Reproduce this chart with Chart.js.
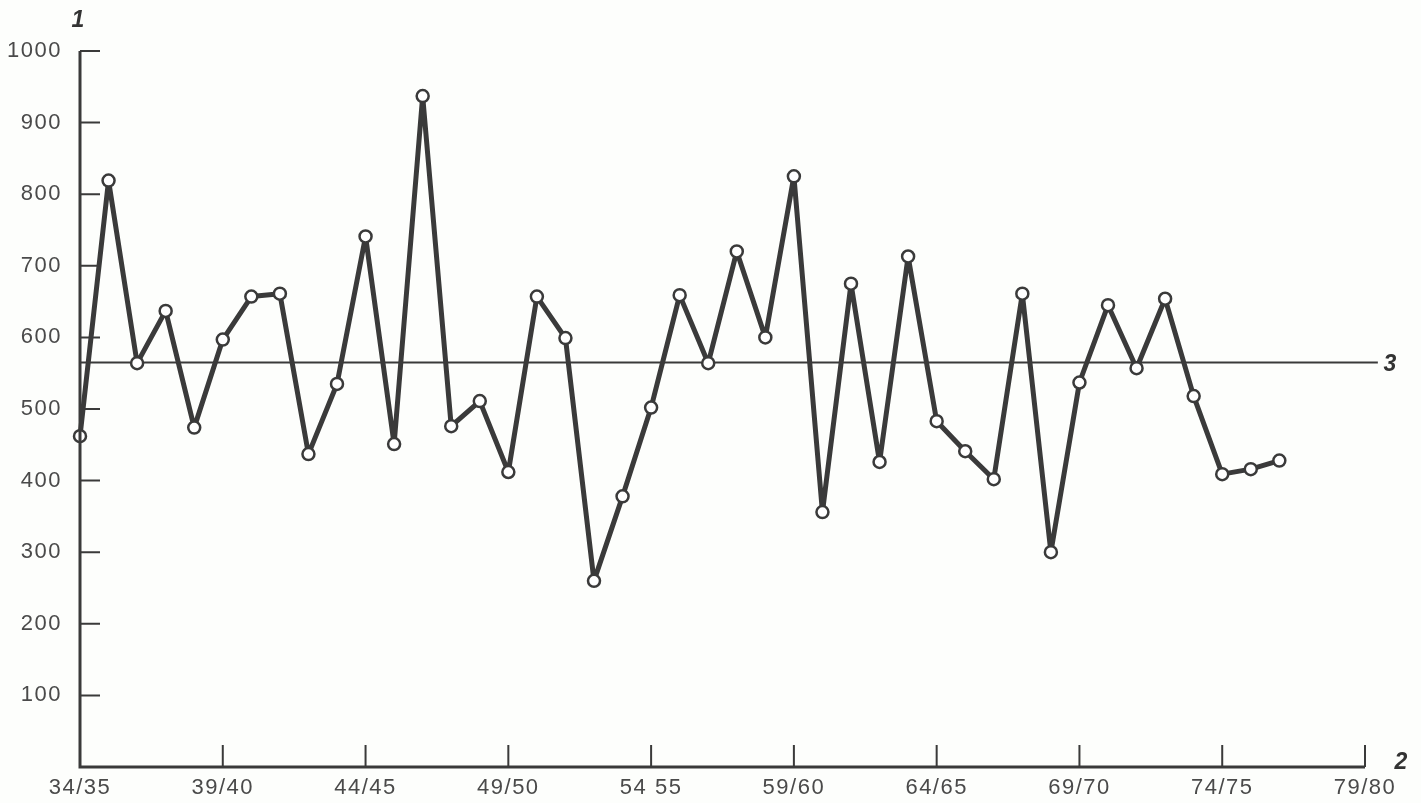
<!DOCTYPE html>
<html>
<head>
<meta charset="utf-8">
<script src="https://cdn.jsdelivr.net/npm/chart.js@4"></script>
<style>
  html, body { margin: 0; padding: 0; background: #fdfefc; }
  #wrap { width: 1421px; height: 803px; }
</style>
</head>
<body>
<div id="wrap"><canvas id="myChart"></canvas></div>
<script>
// seasons 34/35 .. 76/77
var years = [34, 35, 36, 37, 38, 39, 40, 41, 42, 43, 44, 45, 46, 47, 48, 49, 50, 51, 52, 53, 54,
  55, 56, 57, 58, 59, 60, 61, 62, 63, 64, 65, 66, 67, 68, 69, 70, 71, 72, 73, 74, 75, 76];
var values = [462, 819, 564, 637, 474, 597, 657, 661, 437, 535, 741, 451, 937, 476, 511, 412, 657,
  599, 260, 378, 502, 659, 564, 720, 600, 825, 356, 675, 426, 713, 483, 441, 402, 661, 300, 537,
  645, 557, 654, 518, 409, 416, 428];
var meanLevel = 565;
var xTickLabels = {34: "34/35", 39: "39/40", 44: "44/45", 49: "49/50", 54: "54 55",
  59: "59/60", 64: "64/65", 69: "69/70", 74: "74/75", 79: "79/80"};
var yTicks = [100, 200, 300, 400, 500, 600, 700, 800, 900, 1000];

var ink = "#3a3a3a";
var textCol = "#4a4a4a";

var points = years.map(function (y, i) { return { x: y, y: values[i] }; });

// axes, inward tick marks and the 1/2/3 markers
var axesPlugin = {
  id: "axesPlugin",
  beforeDraw: function (chart) {
    chart.ctx.letterSpacing = "1.5px";
  },
  afterDatasetsDraw: function (chart) {
    var c = chart.ctx, xs = chart.scales.x, ys = chart.scales.y;
    var x0 = xs.getPixelForValue(34), y0 = ys.getPixelForValue(0);
    var xEnd = xs.getPixelForValue(79), yTop = ys.getPixelForValue(1000);
    c.save();
    c.letterSpacing = "0px";
    c.strokeStyle = ink;
    c.lineWidth = 3;
    c.beginPath();
    c.moveTo(x0, yTop);
    c.lineTo(x0, y0);
    c.lineTo(xEnd, y0);
    c.stroke();
    c.lineWidth = 2;
    c.beginPath();
    yTicks.forEach(function (v) {
      var p = ys.getPixelForValue(v);
      c.moveTo(x0, p); c.lineTo(x0 + 20, p);
    });
    Object.keys(xTickLabels).forEach(function (k) {
      var p = xs.getPixelForValue(+k);
      if (+k === 34) return;
      c.moveTo(p, y0); c.lineTo(p, y0 - 22);
    });
    c.stroke();
    c.fillStyle = "#333";
    c.font = "italic bold 23px 'Liberation Sans'";
    c.textAlign = "center";
    c.textBaseline = "middle";
    c.fillText("1", x0 - 2, yTop - 30);
    c.fillText("2", xEnd + 36, y0 - 4);
    c.fillText("3", xEnd + 25, ys.getPixelForValue(meanLevel) + 2);
    c.restore();
  }
};

var myChart = new Chart(document.getElementById("myChart").getContext("2d"), {
  type: "line",
  data: {
    datasets: [
      {
        label: "values",
        data: points,
        borderColor: ink,
        borderWidth: 5,
        borderJoinStyle: "round",
        pointRadius: 6,
        pointBorderWidth: 2.5,
        pointBackgroundColor: "#ffffff",
        pointBorderColor: ink,
        tension: 0,
        clip: false,
      },
      {
        label: "mean",
        data: [{ x: 34, y: meanLevel }, { x: 79.45, y: meanLevel }],
        borderColor: ink,
        borderWidth: 2,
        pointRadius: 0,
        clip: false,
      },
    ],
  },
  options: {
    responsive: true,
    maintainAspectRatio: false,
    animation: false,
    layout: { padding: { top: 51, right: 56, left: 0, bottom: 0 } },
    plugins: { legend: { display: false }, tooltip: { enabled: false } },
    scales: {
      x: {
        type: "linear",
        min: 34,
        max: 79,
        afterFit: function (s) { s.height = 36; },
        afterBuildTicks: function (s) {
          s.ticks = Object.keys(xTickLabels).map(function (k) { return { value: +k }; });
        },
        ticks: {
          color: textCol,
          font: { family: "'Liberation Sans'", size: 22 },
          padding: 0,
          maxRotation: 0,
          autoSkip: false,
          callback: function (v) { return xTickLabels[v] || ""; },
        },
        grid: { display: false },
        border: { display: false },
      },
      y: {
        min: 0,
        max: 1000,
        afterFit: function (s) { s.width = 80; },
        afterBuildTicks: function (s) {
          s.ticks = yTicks.map(function (v) { return { value: v }; });
        },
        ticks: {
          color: textCol,
          font: { family: "'Liberation Sans'", size: 22 },
          padding: 10,
          callback: function (v) { return String(v); },
        },
        grid: { display: false },
        border: { display: false },
      },
    },
  },
  plugins: [axesPlugin],
});
</script>
</body>
</html>
